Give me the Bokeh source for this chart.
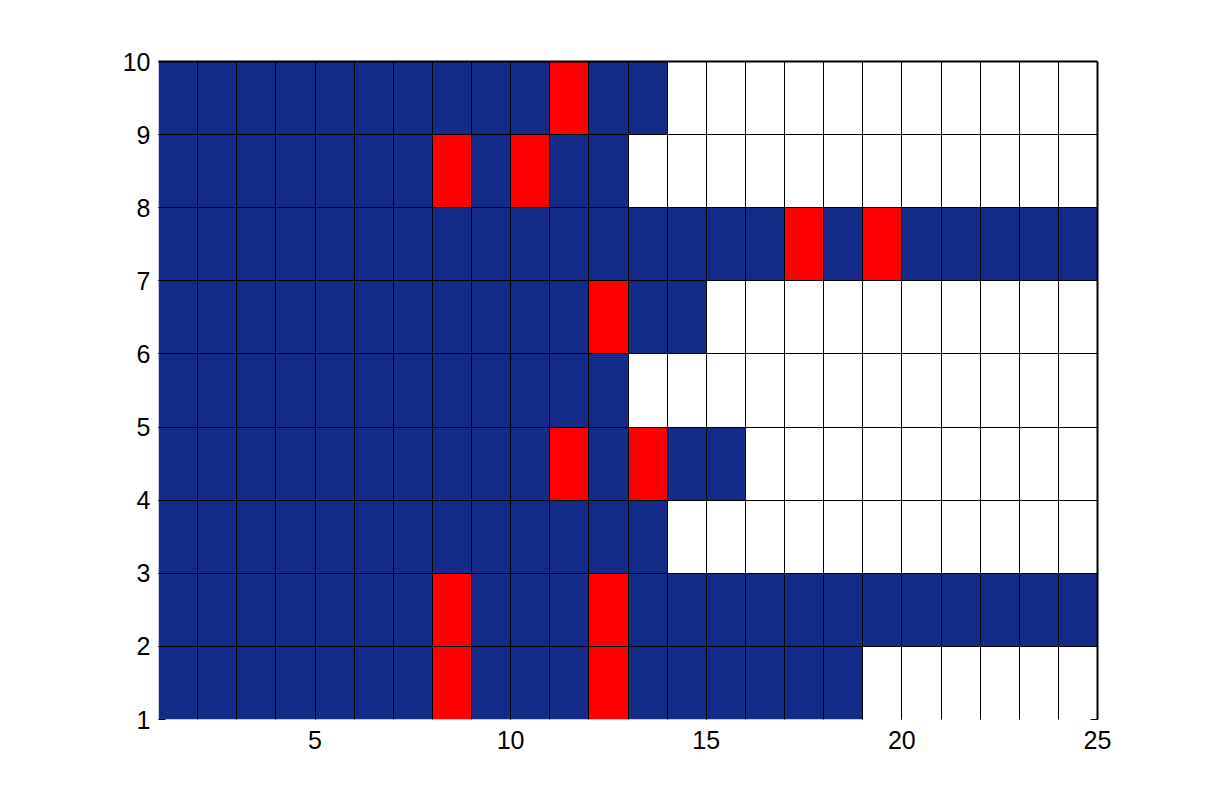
from bokeh.plotting import figure
from bokeh.models import FixedTicker, LinearAxis, Range1d, ColumnDataSource
from bokeh.embed import file_html
from bokeh.resources import INLINE

# rows: bottom y value of each row (rows span y..y+1)
row_y = [1, 2, 3, 4, 5, 6, 7, 8, 9]
# number of coloured cells starting at x=1 in each row
filled_len = [18, 24, 13, 15, 12, 14, 24, 12, 13]
# x start of red cells per row
red_cols = [[8, 12], [8, 12], [], [11, 13], [], [12], [17, 19], [8, 10], [11]]
x_cols = list(range(1, 25))  # cell left edges 1..24
x_ticks = [5, 10, 15, 20, 25]
y_ticks = [1, 2, 3, 4, 5, 6, 7, 8, 9, 10]

BLUE = "#142b8a"
RED = "#ff0000"

left, right, bottom, top, color = [], [], [], [], []
for y, n, reds in zip(row_y, filled_len, red_cols):
    for x in x_cols:
        left.append(x); right.append(x + 1)
        bottom.append(y); top.append(y + 1)
        if x <= n:
            color.append(RED if x in reds else BLUE)
        else:
            color.append("#ffffff")

src = ColumnDataSource(dict(left=left, right=right, bottom=bottom, top=top, color=color))

x_min, x_max = x_cols[0], x_cols[-1] + 1
y_min, y_max = row_y[0], row_y[-1] + 1

p = figure(width=1195, height=792, output_backend="svg", toolbar_location=None,
           x_range=Range1d(x_min, x_max), y_range=Range1d(y_min, y_max),
           min_border_left=158, min_border_right=98, min_border_top=61, min_border_bottom=73)
p.outline_line_color = None
p.background_fill_color = "white"
p.border_fill_color = "white"

p.quad(left="left", right="right", bottom="bottom", top="top", fill_color="color",
       line_color=None, source=src)

# cell edges (not at x=1 / y=1)
p.xgrid.ticker = FixedTicker(ticks=[x + 1 for x in x_cols[:-1]])
p.ygrid.ticker = FixedTicker(ticks=[y + 1 for y in row_y[:-1]])
for g in (p.xgrid, p.ygrid):
    g.grid_line_color = "black"
    g.grid_line_width = 1
    g.grid_line_alpha = 1
    g.level = "overlay"

# top and right edges of the cell block
p.segment(x0=[x_min, x_max], y0=[y_max, y_min], x1=[x_max, x_max], y1=[y_max, y_max],
          line_color="black", line_width=2, level="overlay")

font = "Liberation Sans"
for ax, tks, stand in ((p.xaxis, x_ticks, 11), (p.yaxis, y_ticks, 8)):
    ax.ticker = FixedTicker(ticks=tks)
    ax.axis_line_color = None
    ax.major_tick_in = 7
    ax.major_tick_out = 0
    ax.minor_tick_line_color = None
    ax.major_tick_line_color = "black"
    ax.major_label_text_font = font
    ax.major_label_text_font_size = "25px"
    ax.major_label_text_color = "black"
    ax.major_label_standoff = stand

rax = LinearAxis(ticker=FixedTicker(ticks=[y_ticks[0]]))
rax.axis_line_color = None
rax.major_tick_in = 7
rax.major_tick_out = 0
rax.minor_tick_line_color = None
rax.major_label_text_color = None
rax.major_label_text_font_size = "1px"
p.add_layout(rax, "right")

open("out.html", "w").write(file_html(p, INLINE))
